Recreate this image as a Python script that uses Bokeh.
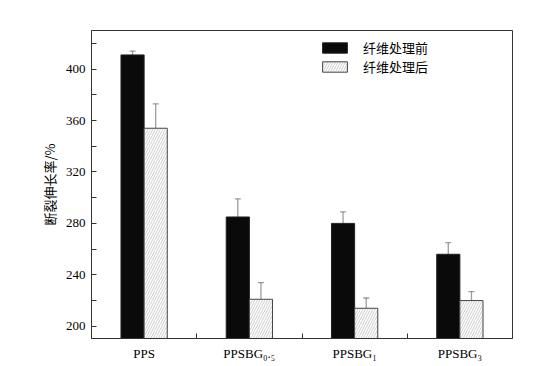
from bokeh.plotting import figure
from bokeh.models import (ColumnDataSource, FixedTicker, Range1d, Whisker, TeeHead,
                          Legend, LegendItem)
from bokeh.embed import file_html
from bokeh.resources import INLINE

categories = ["PPS", "PPSBG₀.₅", "PPSBG₁", "PPSBG₃"]
before = [411, 285, 280, 256]
before_err = [3, 14, 9, 9]
after = [354, 221, 214, 220]
after_err = [19, 13, 8, 7]
series_names = ["纤维处理前", "纤维处理后"]
y_ticks = [200, 240, 280, 320, 360, 400]
y_minor = [220, 260, 300, 340, 380, 420]

centers = [i + 0.5 for i in range(len(categories))]
bw = 0.22
xb = [c - bw / 2 for c in centers]
xa = [c + bw / 2 for c in centers]

src_b = ColumnDataSource(dict(x=xb, top=before,
                              up=[v + e for v, e in zip(before, before_err)],
                              lo=[v - e for v, e in zip(before, before_err)]))
src_a = ColumnDataSource(dict(x=xa, top=after,
                              up=[v + e for v, e in zip(after, after_err)],
                              lo=[v - e for v, e in zip(after, after_err)]))

p = figure(width=556, height=366, output_backend="svg", toolbar_location=None,
           x_range=Range1d(0, 4), y_range=Range1d(190.5, 430),
           min_border_left=91, min_border_right=44, min_border_top=30, min_border_bottom=28)
p.background_fill_color = "white"
p.border_fill_color = "white"
p.outline_line_color = "#333333"
p.outline_line_width = 1
p.xgrid.visible = False
p.ygrid.visible = False

rb = p.vbar(x="x", top="top", bottom=0, width=bw, source=src_b,
            fill_color="#0a0a0a", line_color="#222222", line_width=1)
ra = p.vbar(x="x", top="top", bottom=0, width=bw, source=src_a,
            fill_color="white", line_color="#444444", line_width=1,
            hatch_pattern="/", hatch_color="#aaaaaa", hatch_weight=0.6, hatch_scale=5)

for s in (src_b, src_a):
    w = Whisker(base="x", upper="up", lower="lo", source=s,
                line_color="#757575", line_alpha=0.7, line_width=1.3,
                upper_head=TeeHead(size=6, line_color="#757575", line_alpha=0.7, line_width=1.3),
                lower_head=TeeHead(size=6, line_color="#757575", line_alpha=0.7, line_width=1.3))
    p.add_layout(w)

# x axis
p.xaxis.ticker = FixedTicker(ticks=centers, minor_ticks=[1, 2, 3])
p.xaxis.major_label_overrides = {c: n for c, n in zip(centers, categories)}
p.xaxis.major_tick_in = 0
p.xaxis.major_tick_out = 0
p.xaxis.minor_tick_in = 5
p.xaxis.minor_tick_out = 0
p.xaxis.minor_tick_line_color = "#333333"
p.xaxis.axis_line_color = "#333333"
p.xaxis.major_label_text_font = "Liberation Serif"
p.xaxis.major_label_text_font_size = "13px"
p.xaxis.major_label_text_color = "black"
p.xaxis.major_label_standoff = 7

# y axis
p.yaxis.ticker = FixedTicker(ticks=y_ticks, minor_ticks=y_minor)
p.yaxis.major_tick_in = 5
p.yaxis.major_tick_out = 0
p.yaxis.minor_tick_in = 5
p.yaxis.minor_tick_out = 0
p.yaxis.major_tick_line_color = "#333333"
p.yaxis.minor_tick_line_color = "#333333"
p.yaxis.axis_line_color = "#333333"
p.yaxis.major_label_text_font = "Liberation Serif"
p.yaxis.major_label_text_font_size = "13px"
p.yaxis.major_label_text_color = "black"
p.yaxis.major_label_standoff = 6
p.yaxis.axis_label = "断裂伸长率/%"
p.yaxis.axis_label_text_font = "Noto Sans CJK SC"
p.yaxis.axis_label_text_font_style = "normal"
p.yaxis.axis_label_text_font_size = "13px"
p.yaxis.axis_label_text_color = "black"
p.yaxis.axis_label_standoff = 4

legend = Legend(items=[LegendItem(label=series_names[0], renderers=[rb]),
                       LegendItem(label=series_names[1], renderers=[ra])],
                location=(228, 262), orientation="vertical")
legend.border_line_color = None
legend.background_fill_alpha = 0
legend.padding = 0
legend.margin = 0
legend.spacing = 0
legend.glyph_width = 31
legend.glyph_height = 13
legend.label_height = 13
legend.label_standoff = 13
legend.label_text_font = "Noto Sans CJK SC"
legend.label_text_font_size = "13px"
legend.label_text_color = "black"
p.add_layout(legend)

open("out.html", "w").write(file_html(p, INLINE))
